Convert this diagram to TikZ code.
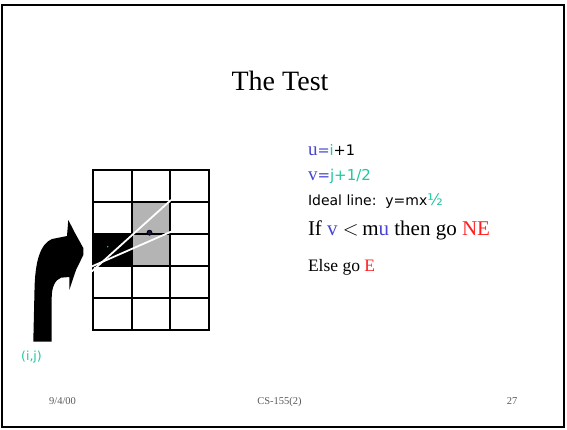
\documentclass[tikz,border=0pt]{standalone}
\usepackage{fontspec}
\setmainfont{Liberation Serif}
\newfontfamily\dejavu{DejaVu Sans}
\definecolor{ublue}{RGB}{70,70,210}
\definecolor{tgreen}{RGB}{30,200,160}
\definecolor{sred}{RGB}{255,30,30}
\definecolor{cellgray}{RGB}{180,180,180}
\definecolor{footgray}{RGB}{90,90,90}
\tikzset{
  txt/.style={inner sep=0pt, outer sep=0pt, anchor=base west},
  gridline/.style={line width=2pt, black},
  whiteline/.style={line width=1.8pt, white},
  foot/.style={inner sep=0pt, anchor=base, text=footgray, font=\fontsize{10.5}{12}\selectfont}
}
\begin{document}
\begin{tikzpicture}[x=1pt,y=-1pt]
\useasboundingbox (0,0) rectangle (567,429);
% frame
\draw[line width=2pt] (2,5) rectangle (564.3,427);
% title
\node[inner sep=0pt, anchor=base] (title) at (280,90) {\fontsize{28}{32}\selectfont The Test};
% cells
\fill[black] (93,233.7) rectangle (131.7,265.8);
\fill[cellgray] (131.7,201.6) rectangle (170.3,265.8);
% grid
\foreach \x in {93,131.7,170.3,209} \draw[gridline] (\x,169.5) -- (\x,330);
\foreach \y in {169.5,201.6,233.7,265.8,297.9,330} \draw[gridline] (92,\y) -- (210,\y);
% lines
\coordinate (s1) at (91.7,271.5);
\coordinate (e1) at (171,200);
\coordinate (s2) at (91.7,266.5);
\coordinate (e2) at (171,231.7);
\draw[whiteline] (s1) -- (e1);
\draw[whiteline] (s2) -- (e2);
% dots
\node[circle, fill={rgb,255:red,20;green,20;blue,80}, draw=black, line width=0.8pt, minimum size=5pt, inner sep=0pt] (mid) at (149.5,232.7) {};
\node[circle, fill=tgreen, minimum size=1.6pt, inner sep=0pt] (pix) at (107.7,246.7) {};
% arrow
\fill[black] (33.3,341.7) -- (34.5,290)
  .. controls (35,262) and (40,244) .. (52,239)
  -- (67,236) -- (68.3,220) -- (75,233) -- (83.3,248) -- (83.3,255)
  -- (76,270) -- (69.3,290) -- (69.3,277)
  -- (61,277.7) .. controls (55,280) and (51.7,287) .. (51.7,298)
  -- (51.7,341.7) -- cycle;
\node[inner sep=0pt, anchor=base, text=tgreen] (ij) at (31.5,360) {\dejavu\fontsize{12.5}{14}\selectfont (i,j)};
% right text
\node[txt] (uline) at (308,155.5) {\fontsize{19}{22}\selectfont\textcolor{ublue}{u}{\dejavu\fontsize{14.5}{16}\selectfont\textcolor{ublue}{=}\textcolor{tgreen}{i}+1}};
\node[txt] (vline) at (308,180.5) {\fontsize{19}{22}\selectfont\textcolor{ublue}{v}{\dejavu\fontsize{15}{16}\selectfont\textcolor{ublue}{=}\textcolor{tgreen}{j+1/2}}};
\node[txt] (ideal) at (308,205.5) {\dejavu\fontsize{14}{16}\selectfont Ideal line:\ \ y=mx\textcolor{tgreen}{\fontsize{16}{16}\selectfont ½}};
\node[txt] (ifline) at (308,235) {\fontsize{21}{24}\selectfont If \textcolor{ublue}{v} ${<}$\,m\textcolor{ublue}{u} then go \textcolor{sred}{NE}};
\node[txt] (else) at (308,271) {\fontsize{17.5}{20}\selectfont Else go \textcolor{sred}{E}};
% footer
\node[foot] (date) at (62.5,404) {9/4/00};
\node[foot] (course) at (279.5,404) {CS-155(2)};
\node[foot] (page) at (512,404) {27};
\end{tikzpicture}
\end{document}
